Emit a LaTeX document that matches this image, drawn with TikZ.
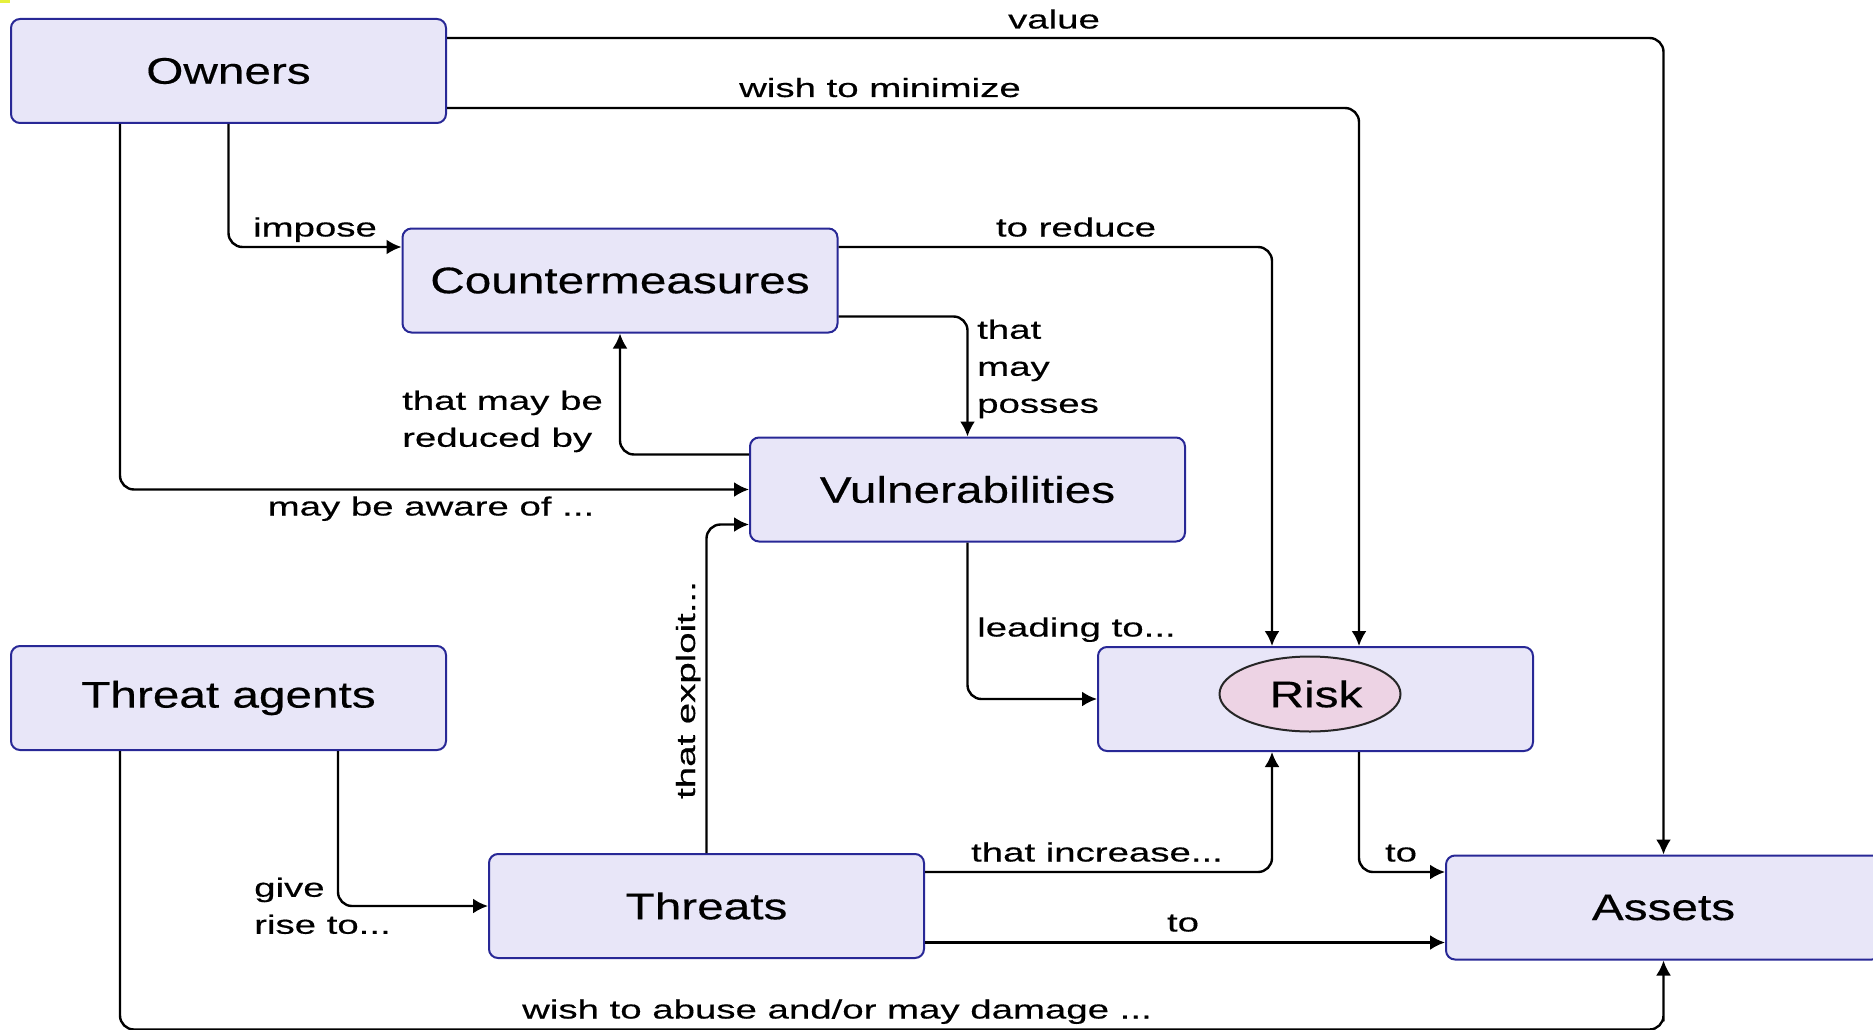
\documentclass[tikz,border=0pt]{standalone}
\usepackage{fontspec}
\setmainfont{Liberation Sans}
\newfontfamily\boxfont{Liberation Sans}[FakeStretch=1.29,FakeBold=0.4]
\newfontfamily\labfont{Liberation Sans}[FakeStretch=1.46,FakeBold=0.4]
\usetikzlibrary{arrows.meta,shapes.geometric}
\definecolor{boxfill}{RGB}{232,230,248}
\definecolor{boxline}{RGB}{40,40,150}
\definecolor{riskfill}{RGB}{237,211,228}
\definecolor{markyellow}{RGB}{230,240,60}
\tikzset{
  box/.style={rectangle, rounded corners=9pt, draw=boxline, fill=boxfill, line width=2pt,
    minimum width=435pt, minimum height=104pt, inner sep=0pt,
    font=\boxfont\fontsize{37}{44}\selectfont},
  riskell/.style={ellipse, draw=black!85, fill=riskfill, line width=2pt,
    minimum width=181pt, minimum height=75pt, inner sep=0pt,
    font=\boxfont\fontsize{37}{44}\selectfont},
  conn/.style={line width=2.4pt, rounded corners=14pt, -{Latex[length=15pt,width=15pt]}},
  lab/.style={inner sep=0pt, font=\labfont\fontsize{26.3}{37}\selectfont},
}
\begin{document}
\begin{tikzpicture}[x=1pt,y=-1pt]
\useasboundingbox (0,0) rectangle (1873,1030);
\clip (0,0) rectangle (1873,1030);
\fill[markyellow] (0,0) rectangle (10,3);

\node[box] (owners) at (228.5,71) {Owners};
\node[box] (cm) at (620,280.5) {Countermeasures};
\node[box] (vuln) at (967.5,489.5) {Vulnerabilities};
\node[box] (agents) at (228.5,698) {Threat agents};
\node[box] (risk) at (1315.5,699) {};
\node[riskell] (riskell) at (1310,694) {\hspace*{12pt}Risk};
\node[box] (threats) at (706.5,906) {Threats};
\node[box] (assets) at (1663.5,907.5) {Assets};

% connectors
\draw[conn] ([yshift=33pt]owners.east) -| (assets.north);
\draw[conn] ([yshift=-37pt]owners.east) -| ([xshift=43.5pt]risk.north);
\draw[conn] (owners.south) |- ([yshift=33.5pt]cm.west);
\draw[conn] ([xshift=-108.5pt]owners.south) |- (vuln.west);
\draw[conn] ([yshift=33.5pt]cm.east) -| ([xshift=-43.5pt]risk.north);
\draw[conn] ([yshift=-36pt]cm.east) -| (vuln.north);
\draw[conn] ([yshift=35pt]vuln.west) -| (cm.south);
\draw[conn] (threats.north) |- ([yshift=-35pt]vuln.west);
\draw[conn] (vuln.south) |- (risk.west);
\draw[conn] ([xshift=109.5pt]agents.south) |- (threats.west);
\draw[conn] ([xshift=-108.5pt]agents.south) |- ([yshift=-69pt]assets.south) -| (assets.south);
\draw[conn] ([yshift=34pt]threats.east) -| ([xshift=-43.5pt]risk.south);
\draw[conn] ([yshift=-36.5pt]threats.east) coordinate (t2) -- (t2 -| assets.west);
\draw[conn] ([xshift=43.5pt]risk.south) |- ([yshift=35.5pt]assets.west);

% labels
\node[lab, anchor=base] (l1) at (1054,28.5) {value};
\node[lab, anchor=base] (l2) at (880,97) {wish to minimize};
\node[lab, anchor=base] (l3) at (315,236.5) {impose};
\node[lab, anchor=base] (l4) at (1076,236.5) {to reduce};
\node[lab, anchor=north west, align=left] (l5) at (977,319.5) {that\\may\\posses};
\node[lab, anchor=north west, align=left] (l6) at (402,390.5) {that may be\\reduced by};
\node[lab, anchor=base] (l7) at (431,515.5) {may be aware of ...};
\node[lab, anchor=base, rotate=90] (l8) at (695,690) {that exploit...};
\node[lab, anchor=base west] (l9) at (977,636.5) {leading to...};
\node[lab, anchor=north west, align=left] (l10) at (254,877.5) {give\\rise to...};
\node[lab, anchor=base] (l11) at (837,1018.5) {wish to abuse and/or may damage ...};
\node[lab, anchor=base] (l12) at (1097,861.5) {that increase...};
\node[lab, anchor=base] (l13) at (1183,931.5) {to};
\node[lab, anchor=base] (l14) at (1401,861.5) {to};
\end{tikzpicture}
\end{document}
